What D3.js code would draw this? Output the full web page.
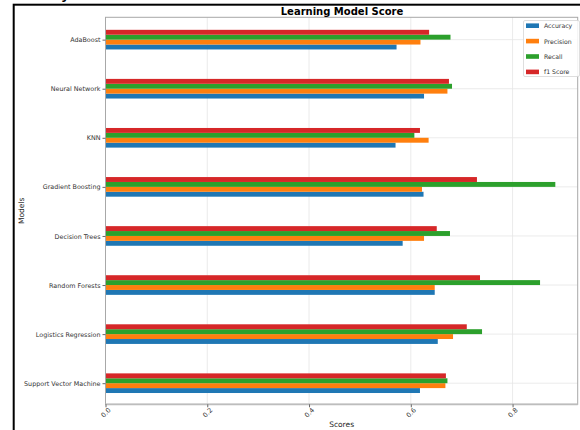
<!DOCTYPE html>
<html>
<head>
<meta charset="utf-8">
<script src="https://cdn.jsdelivr.net/npm/d3@7/dist/d3.min.js"></script>
<style>
  html, body { margin: 0; padding: 0; background: #fff; }
  svg { display: block; font-family: "DejaVu Sans", sans-serif; }
</style>
</head>
<body>
<svg id="chart" width="580" height="430"></svg>
<script>
// Models, listed bottom to top as plotted
const models = ["Support Vector Machine", "Logistics Regression", "Random Forests",
  "Decision Trees", "Gradient Boosting", "KNN", "Neural Network", "AdaBoost"];
const metrics = ["Accuracy", "Precision", "Recall", "f1 Score"];
const colors = ["#1f77b4", "#ff7f0e", "#2ca02c", "#d62728"];

const accuracy  = [0.618, 0.653, 0.647, 0.584, 0.625, 0.570, 0.626, 0.572];
const precision = [0.668, 0.683, 0.647, 0.626, 0.622, 0.635, 0.672, 0.619];
const recall    = [0.672, 0.740, 0.854, 0.677, 0.884, 0.607, 0.681, 0.678];
const f1score   = [0.669, 0.710, 0.736, 0.651, 0.730, 0.618, 0.675, 0.636];

const xTicks = [0.0, 0.2, 0.4, 0.6, 0.8];
const series = [accuracy, precision, recall, f1score];

const svg = d3.select("#chart");
const plot = { left: 105.5, right: 577.7, top: 17.3, bottom: 404.3 };

const x = d3.scaleLinear().domain([0, 0.928]).range([plot.left, plot.right]);
const y = d3.scaleLinear().domain([-0.43, 7.455]).range([plot.bottom, plot.top]);
const step = y(0) - y(1);
const barH = step * 0.1;

// outer figure frame, with the tail of the figure heading above it
svg.append("rect")
  .attr("x", 13.7).attr("y", 4.7).attr("width", 600).attr("height", 500)
  .attr("fill", "none").attr("stroke", "#000").attr("stroke-width", 2);
svg.append("text")
  .attr("x", 61).attr("y", -1.5)
  .attr("font-size", 13).attr("font-weight", "bold").attr("fill", "#000")
  .text("y");

// grid
const grid = svg.append("g");
grid.selectAll("line.v").data(xTicks.slice(1)).join("line")
  .attr("x1", d => x(d)).attr("x2", d => x(d))
  .attr("y1", plot.top).attr("y2", plot.bottom)
  .attr("stroke", "#e6e6e6").attr("stroke-width", 0.8);
grid.selectAll("line.h").data(models).join("line")
  .attr("x1", plot.left).attr("x2", plot.right)
  .attr("y1", (d, i) => y(i)).attr("y2", (d, i) => y(i))
  .attr("stroke", "#e6e6e6").attr("stroke-width", 0.8);

// bars
series.forEach((vals, k) => {
  svg.append("g").selectAll("rect").data(vals).join("rect")
    .attr("x", x(0))
    .attr("y", (d, i) => y(i) + step * 0.2 - (k + 1) * barH)
    .attr("width", d => x(d) - x(0))
    .attr("height", barH)
    .attr("fill", colors[k]);
});

// frame (spines)
svg.append("rect")
  .attr("x", plot.left).attr("y", plot.top)
  .attr("width", plot.right - plot.left).attr("height", plot.bottom - plot.top)
  .attr("fill", "none").attr("stroke", "#a8a8a8").attr("stroke-width", 1);
svg.append("line")
  .attr("x1", plot.left).attr("x2", plot.right)
  .attr("y1", plot.bottom).attr("y2", plot.bottom)
  .attr("stroke", "#bdbdbd").attr("stroke-width", 1.8);

// y axis
const yAxis = d3.axisLeft(y).tickValues(d3.range(models.length))
  .tickFormat(i => models[i]).tickSize(3).tickPadding(2);
const gy = svg.append("g").attr("transform", `translate(${plot.left},0)`).call(yAxis);
gy.select(".domain").remove();
gy.selectAll(".tick line").attr("stroke", "#666");
gy.selectAll(".tick text").attr("font-size", 6.4).attr("fill", "#333")
  .attr("font-family", "DejaVu Sans");

// x axis
const xAxis = d3.axisBottom(x).tickValues(xTicks).tickFormat(d3.format(".1f"))
  .tickSize(3).tickPadding(0);
const gx = svg.append("g").attr("transform", `translate(0,${plot.bottom})`).call(xAxis);
gx.select(".domain").remove();
gx.selectAll(".tick line").attr("stroke", "#666");
gx.selectAll(".tick text")
  .attr("font-size", 6.6).attr("fill", "#333").attr("font-family", "DejaVu Sans")
  .attr("y", 0).attr("dy", 0)
  .attr("text-anchor", "middle").attr("dominant-baseline", "central")
  .attr("transform", "translate(0,8.5) rotate(-45)");

// labels
svg.append("text")
  .attr("x", (plot.left + plot.right) / 2).attr("y", 427)
  .attr("text-anchor", "middle").attr("font-size", 7.5).attr("fill", "#222")
  .text("Scores");
svg.append("text")
  .attr("transform", `translate(23.5,${(plot.top + plot.bottom) / 2}) rotate(-90)`)
  .attr("text-anchor", "middle").attr("font-size", 7.5).attr("fill", "#222")
  .text("Models");
svg.append("text")
  .attr("x", 342).attr("y", 15)
  .attr("text-anchor", "middle").attr("font-size", 10).attr("font-weight", "bold")
  .attr("fill", "#000")
  .text("Learning Model Score");

// legend
const lg = svg.append("g");
lg.append("rect")
  .attr("x", 523.5).attr("y", 20.5).attr("width", 56).attr("height", 56)
  .attr("fill", "#fff").attr("fill-opacity", 0.85)
  .attr("stroke", "#d5d5d5").attr("stroke-width", 0.8).attr("rx", 1.5);
metrics.forEach((m, k) => {
  const cy = 25.7 + k * 15.4;
  lg.append("rect").attr("x", 526).attr("y", cy - 2.3)
    .attr("width", 13).attr("height", 4.6).attr("fill", colors[k]);
  lg.append("text").attr("x", 544).attr("y", cy)
    .attr("dominant-baseline", "central")
    .attr("font-size", 6.2).attr("fill", "#333").text(m);
});
</script>
</body>
</html>
